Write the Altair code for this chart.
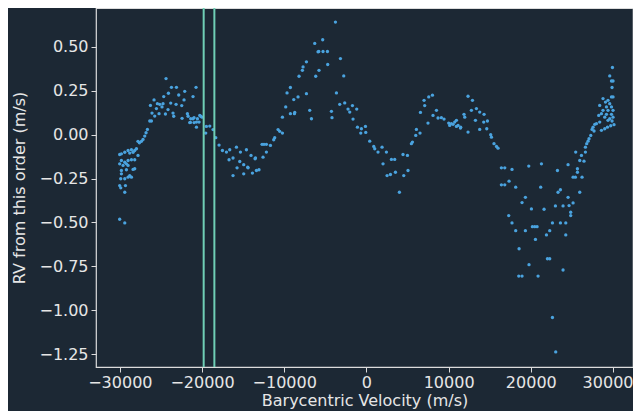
import altair as alt
import pandas as pd

# Barycentric velocity (m/s)
bary_vel = [
    -24380, -23720, -23115, -20730, -22106, -24090, -22836, -21096, -24660, -25840,
    -22190, -23810, -23160, -22470, -26280, -25430, -25150, -24745, -24870, -25550,
    -24140, -26085, -25755, -25230, -24455, -23530, -23445, -21780, -21700, -22430,
    -21375, -21096, -20970, -20560, -21500, -20970, -20360, -20680, -21410, -20680,
    -20280, -20000, -26360, -26160,
    -26645, -26810, -26970, -27180, -27375, -27620, -27790,
    -27980, -28190, -28590, -29000, -29400, -29810, -30020, -27790, -28800, -28390,
    -29810, -29400, -29000, -28590, -28190, -30020, -29610, -29200,
    -29000, -29810, -29200, -28390, -28190, -28800, -28590, -29810, -29890, -29400,
    -29000, -30020, -29890, -29320, -29400,
    -30020, -29400,
    -20160, -19470, -19060, -19550, -18660, -18330, -17930, -17520, -17030, -16630,
    -15815, -16715, -16230, -15740, -15330, -14930, -14600, -14440, -14040, -13870,
    -13550, -13380, -13070, -12580, -12700, -12170, -12460, -12170, -11680, -11160,
    -11280, -10750, -10550, -10220, -10220, -9820, -9660, -9250, -9250, -8840,
    -8760, -8320, -8200, -7790, -7710, -7300, -7300, -6900, -6690, -6290,
    -5890, -6170, -5770,
    -16230, -15410, -14930, -14400, -13500, -8720,
    -3770, -5320, -5800, -5280, -4745, -4710, -3160, -2760, -3650, -3250,
    -2640, -2240, -2030, -1700, -1180, -4260, -4190, -1630, -1095, -610,
    -120, -690, -85,
    400, 890, 1010, 1410, 1900, 2430, 3040, 3440, 2020, 4450,
    4990, 5060, 3530, 2510, 2920, 4540, 4010, 5470, 5600, 6000,
    6520, 6080, 7490, 6570, 7090, 7010, 7580, 8030, 8520, 8100,
    8710, 9120, 9440,
    10010, 10340, 10740, 10950, 10130, 10540, 11150, 11470, 12360, 12900,
    11870, 11960, 12770, 13380, 13780, 14310, 13260, 12360, 13780, 14270,
    14720, 14640, 15120, 15210, 15520, 15820, 16010, 10950, 11440,
    16420, 16830, 17710, 19750, 21290, 23240, 24530, 17350, 16420, 16830,
    18160, 21200, 23310, 23600, 19340, 24530, 18930, 20070, 21610, 22990,
    23920, 24650, 17310, 17710, 18160, 19340, 20190, 20480, 20760, 22630,
    23600, 24250, 22300, 21900, 24250, 20560, 18570, 22020, 22300, 19780,
    23920, 18530, 18930, 20880, 22630, 23030,
    29930, 29600, 29810, 30000, 29880, 29810, 30000,
    28780, 29080, 29390, 29600, 28380, 29200, 29810, 28780, 29390, 30000,
    28590, 29200, 29810, 28260, 28990, 29600, 30000, 29390, 29880,
    30120, 29720, 29320, 28990, 28590,
    28380, 27980, 27780, 27570, 27450, 27690, 27290, 27080, 26960, 26800,
    26640, 25460, 26640, 26160, 25950, 26470, 25670, 25670, 25140, 25420,
    26230, 25950, 25140, 24850, 24850,
]

# RV from this order (m/s)
rv_order = [
    0.32, 0.27, 0.27, 0.27, 0.247, 0.236, 0.226, 0.217, 0.217, 0.198,
    0.198, 0.18, 0.173, 0.166, 0.167, 0.177, 0.173, 0.177, 0.158, 0.149,
    0.143, 0.123, 0.106, 0.12, 0.118, 0.123, 0.105, 0.12, 0.105, 0.093,
    0.091, 0.091, 0.097, 0.091, 0.069, 0.069, 0.072, 0.043, 0.07, 0.072,
    0.11, 0.10, 0.078, 0.078,
    0.03, 0.011, -0.008, -0.027, -0.038, -0.046, -0.038,
    -0.08, -0.09, -0.086, -0.09, -0.1, -0.109, -0.113, -0.118, -0.105, -0.1,
    -0.147, -0.157, -0.147, -0.143, -0.143, -0.166, -0.175, -0.166,
    -0.175, -0.204, -0.2, -0.198, -0.194, -0.233, -0.242, -0.223, -0.251, -0.251,
    -0.242, -0.29, -0.303, -0.29, -0.328,
    -0.482, -0.503,
    0.105, 0.047, 0.049, 0.009, 0.029, -0.017, -0.059, -0.09, -0.099, -0.086,
    -0.071, -0.143, -0.233, -0.189, -0.099, -0.223, -0.086, -0.185, -0.118, -0.219,
    -0.137, -0.204, -0.2, -0.128, -0.055, -0.099, -0.055, -0.055, -0.061, -0.017,
    -0.029, 0.029, 0.019, 0.009, 0.10, 0.158, 0.238, 0.12, 0.269, 0.2,
    0.12, 0.215, 0.333, 0.367, 0.386, 0.415, 0.234, 0.139, 0.091, 0.52,
    0.472, 0.333, 0.367,
    -0.133, -0.153, -0.171, -0.189, -0.133, 0.127,
    0.642, 0.541, 0.474, 0.474, 0.474, 0.4, 0.434, 0.335, 0.238, 0.173,
    0.181, 0.146, 0.129, 0.166, 0.146, 0.133, 0.097, 0.089, 0.043, 0.034,
    0.047, 0.009, 0.013,
    -0.037, -0.067, -0.08, -0.099, -0.071, -0.099, -0.141, -0.141, -0.166, -0.113,
    -0.118, -0.204, -0.214, -0.233, -0.227, -0.233, -0.328, -0.051, -0.042, -0.004,
    0.009, 0.03, 0.066, 0.127, 0.166, 0.196, 0.215, 0.225, 0.139, 0.11,
    0.095, 0.097, 0.089,
    0.066, 0.063, 0.072, 0.082, 0.053, 0.059, 0.053, 0.043, 0.219, 0.196,
    0.116, 0.10, 0.139, 0.149, 0.129, 0.116, 0.082, 0.015, 0.03, 0.072,
    0.078, 0.034, 0.0, -0.014, -0.051, -0.067, -0.077, 0.047, 0.038,
    -0.189, -0.189, -0.198, -0.179, -0.166, -0.204, -0.171, -0.265, -0.286, -0.286,
    -0.299, -0.299, -0.328, -0.314, -0.357, -0.357, -0.387, -0.423, -0.425, -0.406,
    -0.406, -0.404, -0.461, -0.503, -0.547, -0.547, -0.524, -0.524, -0.524, -0.503,
    -0.503, -0.503, -0.547, -0.571, -0.571, -0.597, -0.65, -0.707, -0.707, -0.741,
    -0.771, -0.806, -0.806, -0.806, -1.042, -1.238,
    0.383, 0.335, 0.306, 0.306, 0.269, 0.215, 0.215,
    0.206, 0.186, 0.196, 0.177, 0.167, 0.158, 0.158, 0.139, 0.139, 0.139,
    0.12, 0.116, 0.116, 0.11, 0.1, 0.091, 0.1, 0.082, 0.078,
    0.057, 0.051, 0.043, 0.034, 0.025,
    0.072, 0.063, 0.059, 0.043, 0.03, 0.021, -0.004, -0.023, -0.037, -0.051,
    -0.071, -0.099, -0.099, -0.118, -0.147, -0.151, -0.194, -0.214, -0.242, -0.242,
    -0.242, -0.328, -0.389, -0.442, -0.461,
]

# Marked velocities (vertical lines)
marked_vel = [-19800, -18500]

x_ticks = [-30000, -20000, -10000, 0, 10000, 20000, 30000]
y_ticks = [-1.25, -1.0, -0.75, -0.5, -0.25, 0.0, 0.25, 0.5]

pts = pd.DataFrame({"vel": bary_vel, "rv": rv_order})
lines = pd.DataFrame({"vel": marked_vel})

xscale = alt.Scale(domain=[-32900, 32430], nice=False, zero=False)
yscale = alt.Scale(domain=[-1.324, 0.722], nice=False, zero=False)

last_tick = "datum.value >= 30000"

points = alt.Chart(pts).mark_circle(size=11, color="#4aa3df", opacity=1).encode(
    x=alt.X("vel:Q", scale=xscale,
            axis=alt.Axis(values=x_ticks, format="d", title="Barycentric Velocity (m/s)",
                          titlePadding=2, labelPadding=2,
                          labelAlign={"condition": {"test": last_tick, "value": "right"},
                                      "value": "center"},
                          labelOffset={"condition": {"test": last_tick, "value": 20},
                                       "value": 0})),
    y=alt.Y("rv:Q", scale=yscale,
            axis=alt.Axis(values=y_ticks, format=".2f", title="RV from this order (m/s)",
                          titlePadding=11)),
)

rules = alt.Chart(lines).mark_rule(color="#6fcfb5", strokeWidth=2).encode(
    x=alt.X("vel:Q", scale=xscale)
)

chart = alt.layer(points, rules).properties(
    width=537,
    height=359,
    autosize=alt.AutoSizeParams(type="none"),
    padding={"left": 88, "top": 0, "right": 0, "bottom": 44},
    background="#1c2834",
).configure_view(
    stroke="#dcdcdc",
    strokeWidth=1.2,
).configure_axis(
    domain=False,
    grid=False,
    tickColor="#dcdcdc",
    tickSize=5,
    tickWidth=1,
    labelColor="#e6e6e6",
    titleColor="#e6e6e6",
    labelFont="DejaVu Sans",
    titleFont="DejaVu Sans",
    labelFontSize=16,
    titleFontSize=16,
    titleFontWeight="normal",
    labelPadding=3,
)

chart.save("out.html", embed_options={"renderer": "svg", "actions": False})
